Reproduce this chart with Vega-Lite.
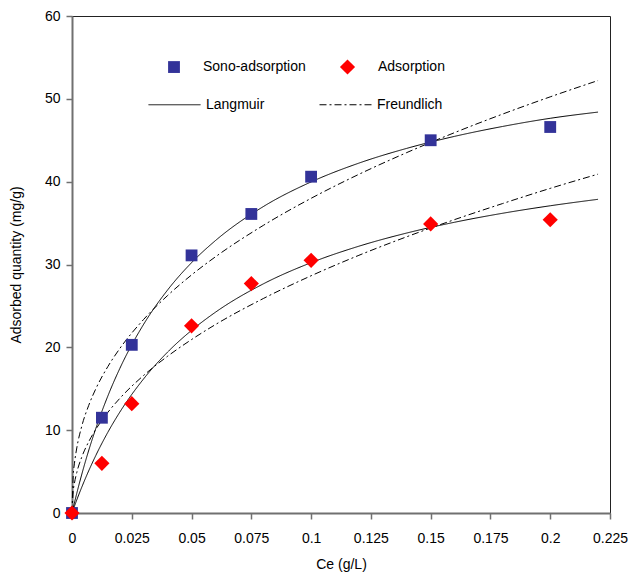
{
  "$schema": "https://vega.github.io/schema/vega-lite/v6.json",
  "width": 538,
  "height": 497,
  "autosize": {"type": "none"},
  "padding": {"left": 72, "top": 16, "right": 26, "bottom": 68},
  "background": "white",
  "config": {
    "font": "Liberation Sans",
    "view": {"stroke": "#222", "strokeWidth": 1},
    "axis": {"grid": false, "domainColor": "#707070", "domainWidth": 2, "tickColor": "#707070", "tickWidth": 1.5, "tickSize": 6, "labelFont": "Liberation Sans", "labelFontSize": 14, "labelColor": "#000", "titleFont": "Liberation Sans", "titleFontSize": 14, "titleFontWeight": "normal", "titleColor": "#000", "labelOverlap": false, "labelFlush": false}
  },
  "datasets": {
    "points": [
      {"series": "Sono-adsorption", "C": 0, "q": 0},
      {"series": "Sono-adsorption", "C": 0.0125, "q": 11.5},
      {"series": "Sono-adsorption", "C": 0.025, "q": 20.3},
      {"series": "Sono-adsorption", "C": 0.05, "q": 31.1},
      {"series": "Sono-adsorption", "C": 0.075, "q": 36.1},
      {"series": "Sono-adsorption", "C": 0.1, "q": 40.6},
      {"series": "Sono-adsorption", "C": 0.15, "q": 45.0},
      {"series": "Sono-adsorption", "C": 0.2, "q": 46.6},
      {"series": "Adsorption", "C": 0, "q": 0},
      {"series": "Adsorption", "C": 0.0125, "q": 6.0},
      {"series": "Adsorption", "C": 0.025, "q": 13.2},
      {"series": "Adsorption", "C": 0.05, "q": 22.6},
      {"series": "Adsorption", "C": 0.075, "q": 27.7},
      {"series": "Adsorption", "C": 0.1, "q": 30.5},
      {"series": "Adsorption", "C": 0.15, "q": 34.9},
      {"series": "Adsorption", "C": 0.2, "q": 35.4}
    ],
    "curves": [
      {"model": "Langmuir", "series": "S", "C": 0, "q": 0},
      {"model": "Langmuir", "series": "S", "C": 0.002, "q": 2.38},
      {"model": "Langmuir", "series": "S", "C": 0.005, "q": 5.61},
      {"model": "Langmuir", "series": "S", "C": 0.01, "q": 10.24},
      {"model": "Langmuir", "series": "S", "C": 0.015, "q": 14.13},
      {"model": "Langmuir", "series": "S", "C": 0.02, "q": 17.45},
      {"model": "Langmuir", "series": "S", "C": 0.03, "q": 22.8},
      {"model": "Langmuir", "series": "S", "C": 0.04, "q": 26.93},
      {"model": "Langmuir", "series": "S", "C": 0.05, "q": 30.22},
      {"model": "Langmuir", "series": "S", "C": 0.06, "q": 32.89},
      {"model": "Langmuir", "series": "S", "C": 0.08, "q": 36.99},
      {"model": "Langmuir", "series": "S", "C": 0.1, "q": 39.97},
      {"model": "Langmuir", "series": "S", "C": 0.12, "q": 42.24},
      {"model": "Langmuir", "series": "S", "C": 0.14, "q": 44.02},
      {"model": "Langmuir", "series": "S", "C": 0.16, "q": 45.47},
      {"model": "Langmuir", "series": "S", "C": 0.18, "q": 46.66},
      {"model": "Langmuir", "series": "S", "C": 0.2, "q": 47.65},
      {"model": "Langmuir", "series": "S", "C": 0.22, "q": 48.4},
      {"model": "Langmuir", "series": "A", "C": 0, "q": 0},
      {"model": "Langmuir", "series": "A", "C": 0.002, "q": 1.58},
      {"model": "Langmuir", "series": "A", "C": 0.005, "q": 3.76},
      {"model": "Langmuir", "series": "A", "C": 0.01, "q": 6.97},
      {"model": "Langmuir", "series": "A", "C": 0.015, "q": 9.75},
      {"model": "Langmuir", "series": "A", "C": 0.02, "q": 12.18},
      {"model": "Langmuir", "series": "A", "C": 0.03, "q": 16.21},
      {"model": "Langmuir", "series": "A", "C": 0.04, "q": 19.43},
      {"model": "Langmuir", "series": "A", "C": 0.05, "q": 22.05},
      {"model": "Langmuir", "series": "A", "C": 0.06, "q": 24.24},
      {"model": "Langmuir", "series": "A", "C": 0.08, "q": 27.66},
      {"model": "Langmuir", "series": "A", "C": 0.1, "q": 30.22},
      {"model": "Langmuir", "series": "A", "C": 0.12, "q": 32.21},
      {"model": "Langmuir", "series": "A", "C": 0.14, "q": 33.8},
      {"model": "Langmuir", "series": "A", "C": 0.16, "q": 35.1},
      {"model": "Langmuir", "series": "A", "C": 0.18, "q": 36.18},
      {"model": "Langmuir", "series": "A", "C": 0.2, "q": 37.09},
      {"model": "Langmuir", "series": "A", "C": 0.22, "q": 37.87},
      {"model": "Freundlich", "series": "S", "C": 0, "q": 0},
      {"model": "Freundlich", "series": "S", "C": 0.0005, "q": 4.49},
      {"model": "Freundlich", "series": "S", "C": 0.001, "q": 5.94},
      {"model": "Freundlich", "series": "S", "C": 0.002, "q": 7.85},
      {"model": "Freundlich", "series": "S", "C": 0.004, "q": 10.39},
      {"model": "Freundlich", "series": "S", "C": 0.007, "q": 13.0},
      {"model": "Freundlich", "series": "S", "C": 0.01, "q": 15.02},
      {"model": "Freundlich", "series": "S", "C": 0.015, "q": 17.68},
      {"model": "Freundlich", "series": "S", "C": 0.02, "q": 19.86},
      {"model": "Freundlich", "series": "S", "C": 0.03, "q": 23.38},
      {"model": "Freundlich", "series": "S", "C": 0.04, "q": 26.26},
      {"model": "Freundlich", "series": "S", "C": 0.05, "q": 28.74},
      {"model": "Freundlich", "series": "S", "C": 0.06, "q": 30.93},
      {"model": "Freundlich", "series": "S", "C": 0.08, "q": 34.72},
      {"model": "Freundlich", "series": "S", "C": 0.1, "q": 37.99},
      {"model": "Freundlich", "series": "S", "C": 0.12, "q": 40.89},
      {"model": "Freundlich", "series": "S", "C": 0.14, "q": 43.51},
      {"model": "Freundlich", "series": "S", "C": 0.16, "q": 45.92},
      {"model": "Freundlich", "series": "S", "C": 0.18, "q": 48.15},
      {"model": "Freundlich", "series": "S", "C": 0.2, "q": 50.24},
      {"model": "Freundlich", "series": "S", "C": 0.22, "q": 52.21},
      {"model": "Freundlich", "series": "A", "C": 0, "q": 0},
      {"model": "Freundlich", "series": "A", "C": 0.0005, "q": 2.61},
      {"model": "Freundlich", "series": "A", "C": 0.001, "q": 3.57},
      {"model": "Freundlich", "series": "A", "C": 0.002, "q": 4.89},
      {"model": "Freundlich", "series": "A", "C": 0.004, "q": 6.69},
      {"model": "Freundlich", "series": "A", "C": 0.007, "q": 8.61},
      {"model": "Freundlich", "series": "A", "C": 0.01, "q": 10.12},
      {"model": "Freundlich", "series": "A", "C": 0.015, "q": 12.15},
      {"model": "Freundlich", "series": "A", "C": 0.02, "q": 13.84},
      {"model": "Freundlich", "series": "A", "C": 0.03, "q": 16.62},
      {"model": "Freundlich", "series": "A", "C": 0.04, "q": 18.93},
      {"model": "Freundlich", "series": "A", "C": 0.05, "q": 20.94},
      {"model": "Freundlich", "series": "A", "C": 0.06, "q": 22.75},
      {"model": "Freundlich", "series": "A", "C": 0.08, "q": 25.89},
      {"model": "Freundlich", "series": "A", "C": 0.1, "q": 28.64},
      {"model": "Freundlich", "series": "A", "C": 0.12, "q": 31.11},
      {"model": "Freundlich", "series": "A", "C": 0.14, "q": 33.35},
      {"model": "Freundlich", "series": "A", "C": 0.16, "q": 35.42},
      {"model": "Freundlich", "series": "A", "C": 0.18, "q": 37.35},
      {"model": "Freundlich", "series": "A", "C": 0.2, "q": 39.19},
      {"model": "Freundlich", "series": "A", "C": 0.22, "q": 40.91}
    ]
  },
  "encoding": {
    "x": {"field": "C", "type": "quantitative", "scale": {"domain": [0, 0.225], "nice": false, "zero": true},
      "axis": {"title": "Ce (g/L)", "values": [0, 0.025, 0.05, 0.075, 0.1, 0.125, 0.15, 0.175, 0.2, 0.225], "format": ".3~f", "labelPadding": 12, "titlePadding": 12}},
    "y": {"field": "q", "type": "quantitative", "scale": {"domain": [0, 60], "nice": false},
      "axis": {"title": "Adsorbed quantity (mg/g)", "values": [0, 10, 20, 30, 40, 50, 60], "labelPadding": 6, "titlePadding": 21}}
  },
  "layer": [
    {
      "data": {"name": "curves"},
      "mark": {"type": "line", "color": "#000", "strokeWidth": 1, "interpolate": "monotone"},
      "encoding": {
        "detail": {"field": "series"},
        "strokeDash": {"field": "model", "type": "nominal",
          "scale": {"domain": ["Langmuir", "Freundlich"], "range": [[1, 0], [7, 3, 2, 3]]},
          "legend": {"title": null, "orient": "none", "direction": "horizontal", "legendX": 76, "legendY": 62,
            "symbolType": "stroke", "symbolSize": 2704, "symbolStrokeWidth": 1, "symbolStrokeColor": "#000",
            "labelFontSize": 14, "labelFont": "Liberation Sans", "labelColor": "#000", "labelOffset": 5, "columnPadding": 52, "padding": 0}}
      }
    },
    {
      "data": {"name": "points"},
      "mark": {"type": "point", "filled": true, "opacity": 1},
      "encoding": {
        "color": {"field": "series", "type": "nominal",
          "scale": {"domain": ["Sono-adsorption", "Adsorption"], "range": ["#333399", "#FF0000"]},
          "legend": {"title": null, "orient": "none", "direction": "horizontal", "legendX": 95, "legendY": 42,
            "symbolOpacity": 1,
            "labelFontSize": 14, "labelFont": "Liberation Sans", "labelColor": "#000", "labelOffset": 22, "columnPadding": 30, "padding": 0}},
        "shape": {"field": "series", "type": "nominal",
          "scale": {"domain": ["Sono-adsorption", "Adsorption"], "range": ["square", "diamond"]}},
        "size": {"field": "series", "type": "nominal",
          "scale": {"domain": ["Sono-adsorption", "Adsorption"], "range": [140, 230]}}
      }
    }
  ]
}
